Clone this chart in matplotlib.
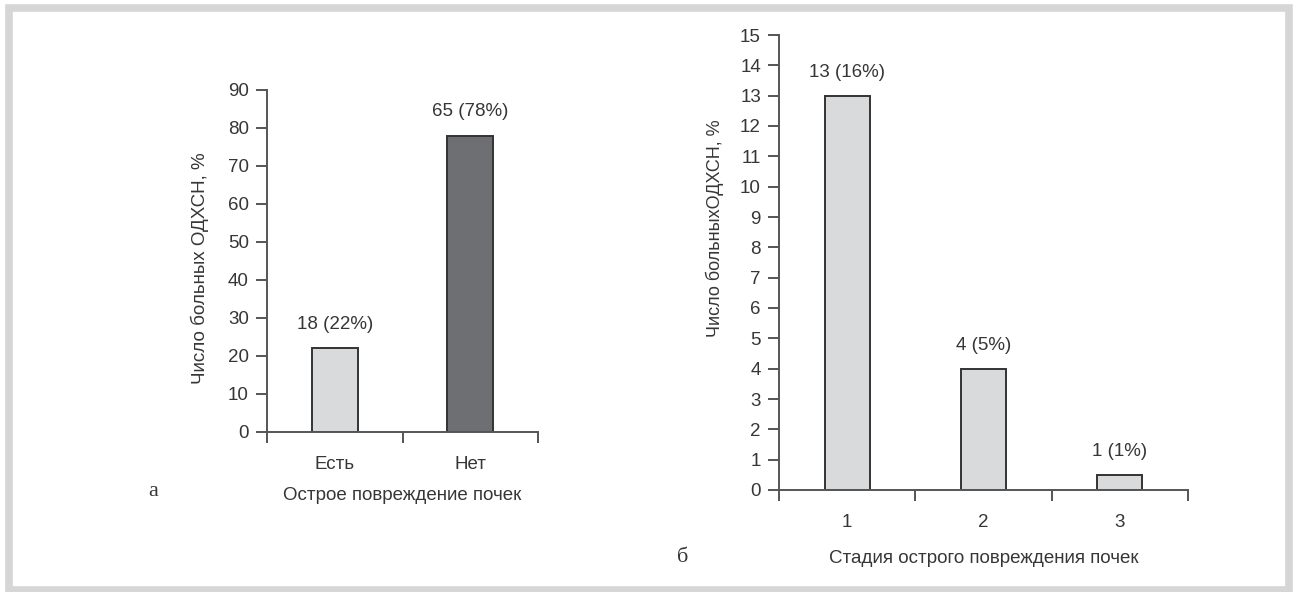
import matplotlib
matplotlib.use("Agg")
import matplotlib.pyplot as plt
from matplotlib.patches import Rectangle

#---------------------------
# DATA
#---------------------------
left_categories = ["Есть", "Нет"]
left_values = [22, 78]
left_labels = ["18 (22%)", "65 (78%)"]
left_colors = ["#d9dadc", "#6e6f72"]

right_categories = ["1", "2", "3"]
right_values = [13, 4, 0.5]
right_labels = ["13 (16%)", "4 (5%)", "1 (1%)"]

LEFT_YLABEL = "Число больных ОДХСН, %"
RIGHT_YLABEL = "Число больныхОДХСН, %"
LEFT_XLABEL = "Острое повреждение почек"
RIGHT_XLABEL = "Стадия острого повреждения почек"

TEXT_C = "#363636"
AXIS_C = "#555555"
FS = 13.5

plt.rcParams['font.family'] = ['Liberation Sans', 'DejaVu Sans']

fig = plt.figure(figsize=(12.95, 5.92), dpi=100)

# gray frame around the figure
fig.patches.append(Rectangle((8.5 / 1295, 2 / 592), 1280 / 1295, 582 / 592,
                             transform=fig.transFigure, fill=False,
                             edgecolor="#d6d6d6", linewidth=5.5))


def style_axes(ax, n, ymax, ystep):
    for s in ["top", "right"]:
        ax.spines[s].set_visible(False)
    for s in ["left", "bottom"]:
        ax.spines[s].set_color(AXIS_C)
        ax.spines[s].set_linewidth(1.4)
    ax.set_xlim(0, n)
    ax.set_ylim(0, ymax)
    ax.set_yticks(range(0, ymax + 1, ystep))
    ax.set_xticks(range(0, n + 1))
    ax.set_xticklabels([])
    ax.set_xticks([i + 0.5 for i in range(n)], minor=True)
    ax.tick_params(axis="x", which="major", direction="out", length=8,
                   width=1.4, color=AXIS_C)
    ax.tick_params(axis="x", which="minor", length=0, pad=17,
                   labelsize=FS, labelcolor=TEXT_C)
    ax.tick_params(axis="y", direction="out", length=8, width=1.4,
                   color=AXIS_C, labelsize=FS, labelcolor=TEXT_C, pad=5)


#---------------------------
# left chart (а)
#---------------------------
ax1 = fig.add_axes([267 / 1295, 1 - 432 / 592, 271 / 1295, 342 / 592])
style_axes(ax1, 2, 90, 10)
xs = [i + 0.5 for i in range(len(left_categories))]
ax1.bar(xs, left_values, width=0.34, color=left_colors,
        edgecolor="#333333", linewidth=1.4)
ax1.set_xticklabels(left_categories, minor=True)
for x, v, t in zip(xs, left_values, left_labels):
    ax1.annotate(t, (x, v), xytext=(0, 17), textcoords="offset points",
                 ha="center", va="center", fontsize=FS, color=TEXT_C)
ax1.set_xlabel(LEFT_XLABEL, fontsize=FS, color=TEXT_C, labelpad=10)
ax1.set_ylabel(LEFT_YLABEL, fontsize=FS, color=TEXT_C, va="center")
ax1.yaxis.set_label_coords(-0.247, 0.48)

#---------------------------
# right chart (б)
#---------------------------
ax2 = fig.add_axes([779 / 1295, 1 - 490 / 592, 409 / 1295, 455 / 592])
style_axes(ax2, 3, 15, 1)
xs = [i + 0.5 for i in range(len(right_categories))]
ax2.bar(xs, right_values, width=0.33, color="#d9dadc",
        edgecolor="#333333", linewidth=1.4)
ax2.set_xticklabels(right_categories, minor=True)
for x, v, t in zip(xs, right_values, right_labels):
    ax2.annotate(t, (x, v), xytext=(0, 17), textcoords="offset points",
                 ha="center", va="center", fontsize=FS, color=TEXT_C)
ax2.set_xlabel(RIGHT_XLABEL, fontsize=FS, color=TEXT_C, labelpad=14)
ax2.set_ylabel(RIGHT_YLABEL, fontsize=13, color=TEXT_C, va="center")
ax2.yaxis.set_label_coords(-0.157, 0.575)

# panel letters
fig.text(153 / 1295, 1 - 492 / 592, "а", family="Liberation Serif",
         fontsize=16, color=TEXT_C, ha="center", va="center")
fig.text(683 / 1295, 1 - 557 / 592, "б", family="Liberation Serif",
         fontsize=16, color=TEXT_C, ha="center", va="center")

fig.savefig("out.png", dpi=100)
